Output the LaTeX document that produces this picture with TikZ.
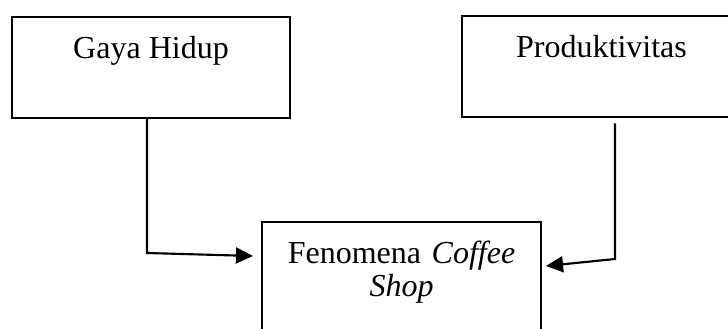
\documentclass[tikz,border=0pt]{standalone}
\usepackage{fontspec}
\setmainfont{Liberation Serif}
\usetikzlibrary{arrows.meta}
\begin{document}
\begin{tikzpicture}[x=0.375pt,y=-0.375pt,
    font=\fontsize{12}{12.4}\selectfont,
    box/.style={draw,line width=0.75pt,anchor=north,minimum width=104.4pt,
      inner xsep=0pt,inner ysep=0pt,text height=15.4pt,text depth=22.5pt},
    arr/.style={line width=0.8pt,-{Triangle[length=6.4pt,width=6pt]}}]
  \path[use as bounding box,clip] (0,0) rectangle (728,329);
  \draw
    (151,16) node[box] (gaya){Gaya Hidup}
    (601.5,15) node[box] (produk){Produktivitas}
    (401.5,221) node[box,text width=104.4pt,align=center,text depth=50pt] (fenomena)
      {Fenomena \textit{Coffee}\\ \textit{Shop}};
  \coordinate (c1) at (147,253);
  \coordinate (t1) at (253,256);
  \coordinate (c2) at (615,259);
  \coordinate (t2) at (546,266);
  \begin{scope}[arr]
    \draw (gaya.south -| c1) -- (c1) -- (t1);
    \draw[shorten <=2pt] (produk.south -| c2) -- (c2) -- (t2);
  \end{scope}
\end{tikzpicture}
\end{document}
